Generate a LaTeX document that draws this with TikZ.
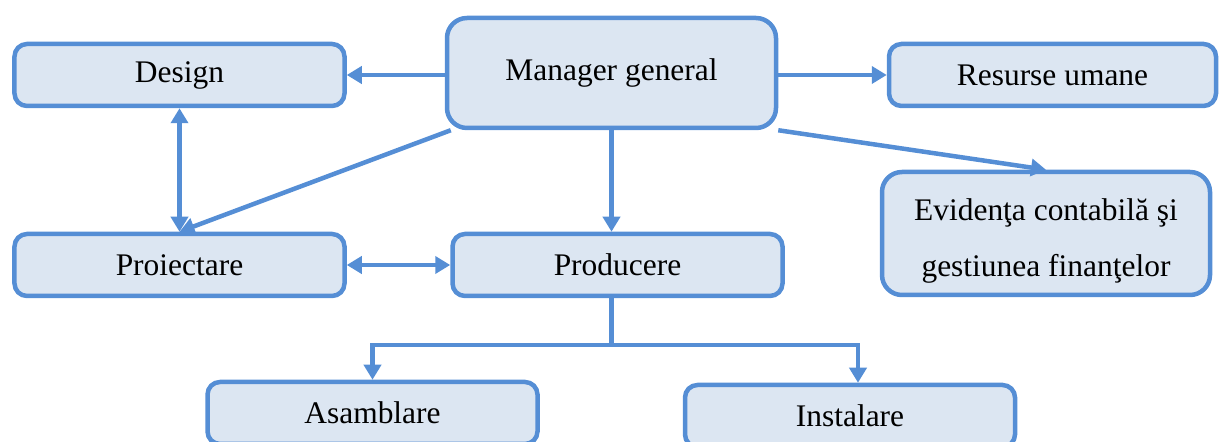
\documentclass[tikz,border=0pt]{standalone}
\usepackage{fontspec}
\setmainfont{Liberation Serif}
\usetikzlibrary{arrows.meta,positioning,calc}
\definecolor{boxblue}{RGB}{85,142,213}
\definecolor{boxfill}{RGB}{220,230,242}

\begin{document}
\begin{tikzpicture}[
    unitbox/.style={rectangle, draw=boxblue, line width=0.09cm, rounded corners=0.25cm, fill=boxfill, minimum width=6.6cm, minimum height=1.24cm, align=center, font=\fontsize{17.9}{31.5}\selectfont},
    bigbox/.style={unitbox, rounded corners=0.4cm},
    link/.style={draw=boxblue, line width=0.09cm, -{Triangle[length=0.3cm, width=0.34cm]}},
    twoway/.style={link, {Triangle[length=0.3cm, width=0.34cm]}-{Triangle[length=0.3cm, width=0.34cm]}}
]
    \useasboundingbox (0,0) rectangle (24.42,8.84);

    % Top row
    \node[bigbox, minimum width=6.58cm, minimum height=2.2cm] (manager) at (12.23,7.38) {Manager general};
    \node[unitbox] (design) at (3.59,7.34) {Design};
    \node[unitbox, minimum width=6.54cm] (resurse) at (21.05,7.34) {Resurse umane};

    % Middle row
    \node[unitbox] (proiect) at (3.59,3.54) {Proiectare};
    \node[unitbox] (produc) at (12.35,3.54) {Producere};
    \node[bigbox, minimum width=6.56cm, minimum height=2.46cm, text height=1.85cm] (evid) at (20.92,4.17) {Evidenţa contabilă şi\\gestiunea finanţelor};

    % Bottom row
    \node[unitbox] (asamb) at (7.45,0.58) {Asamblare};
    \node[unitbox] (instal) at (17.00,0.52) {Instalare};

    % Links
    \draw[link] (manager.west |- design.east) -- (design.east);
    \draw[link] (manager.east |- resurse.west) -- (resurse.west);
    \draw[link] (manager.south) -- (manager.south |- produc.north);
    \draw[link] ($(manager.south west)+(0.12,0)$) -- (proiect.north);
    \draw[link] (manager.south east) -- (evid.north);
    \draw[twoway] (design.south) -- (proiect.north);
    \draw[twoway] (proiect.east) -- (produc.west);

    % Producere split
    \draw[draw=boxblue, line width=0.09cm] (produc.south -| manager.south) -- ++(0,-0.94) coordinate (split);
    \draw[link] (split) -| (asamb.north);
    \draw[link] (split) -| ($(instal.north)+(0.16,0)$);
\end{tikzpicture}
\end{document}
